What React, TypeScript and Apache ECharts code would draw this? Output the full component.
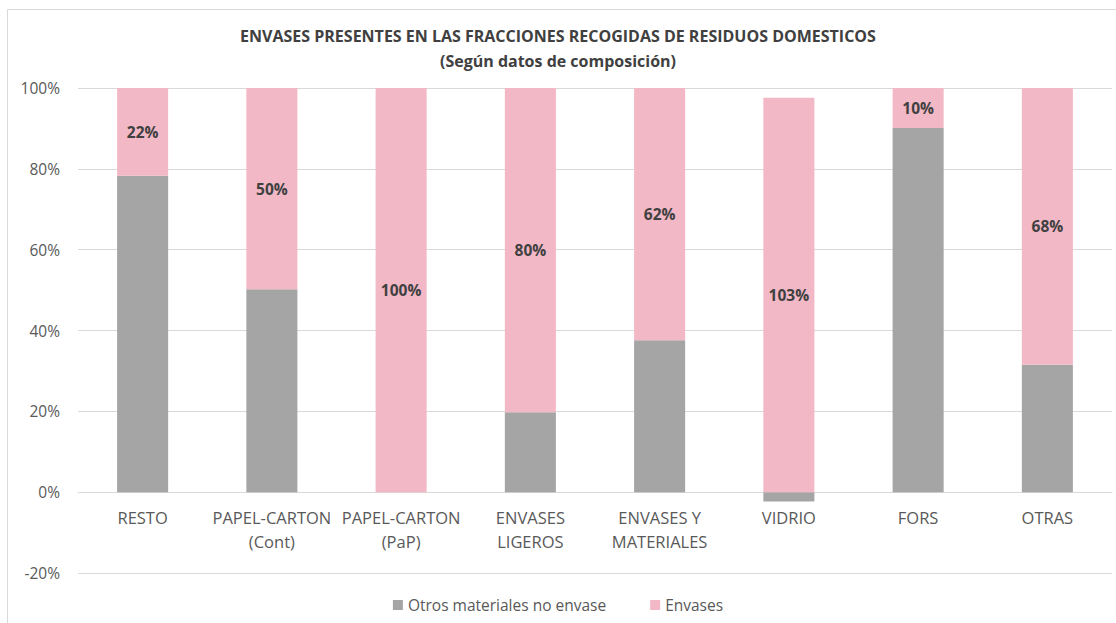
import React, { useEffect, useRef } from "react";
import * as echarts from "echarts";

const categories = [
  "RESTO",
  "PAPEL-CARTON\n(Cont)",
  "PAPEL-CARTON\n(PaP)",
  "ENVASES\nLIGEROS",
  "ENVASES Y\nMATERIALES",
  "VIDRIO",
  "FORS",
  "OTRAS",
];
const otrosMateriales = [78.3, 50.2, 0, 19.8, 37.6, -2.3, 90.1, 31.5];
const envases = [21.7, 49.8, 100, 80.2, 62.4, 97.6, 9.9, 68.5];
const envasesLabels = ["22%", "50%", "100%", "80%", "62%", "103%", "10%", "68%"];
const yTicks = { min: -20, max: 100, interval: 20 };

const FONT = "'Open Sans', 'Noto Sans', sans-serif";

export default function App() {
  const ref = useRef<HTMLDivElement>(null);
  useEffect(() => {
    if (!ref.current) return;
    const chart = echarts.init(ref.current, null, { renderer: "svg" });
    chart.setOption({
      animation: false,
      backgroundColor: "#ffffff",
      textStyle: { fontFamily: FONT },
      title: {
        text: "ENVASES PRESENTES EN LAS FRACCIONES RECOGIDAS DE RESIDUOS DOMESTICOS\n(Según datos de composición)",
        left: "center",
        top: 18,
        textStyle: {
          fontFamily: FONT,
          fontSize: 16,
          fontWeight: "bold",
          color: "#404040",
          lineHeight: 25,
        },
      },
      graphic: [
        {
          type: "rect",
          shape: { x: 7.5, y: 9.5, width: 1130, height: 640 },
          style: { fill: "none", stroke: "#d9d9d9", lineWidth: 1 },
          silent: true,
        },
      ],
      legend: {
        bottom: 5,
        left: "center",
        itemWidth: 10,
        itemHeight: 10,
        itemGap: 44,
        icon: "rect",
        textStyle: { fontFamily: FONT, fontSize: 15.5, color: "#595959" },
        data: ["Otros materiales no envase", "Envases"],
      },
      grid: {
        left: 78,
        right: 4,
        top: 88,
        bottom: 50,
        containLabel: false,
        outerBoundsMode: "none",
      },
      xAxis: {
        type: "category",
        data: categories,
        offset: -81,
        axisLine: { onZero: false, lineStyle: { color: "#d9d9d9" } },
        axisTick: { show: false },
        axisLabel: {
          fontFamily: FONT,
          fontSize: 16.5,
          color: "#595959",
          lineHeight: 24,
          margin: 13,
          interval: 0,
        },
      },
      yAxis: {
        type: "value",
        min: yTicks.min,
        max: yTicks.max,
        interval: yTicks.interval,
        axisLine: { show: false },
        axisTick: { show: false },
        splitLine: { lineStyle: { color: "#d9d9d9", width: 1 } },
        axisLabel: {
          formatter: "{value}%",
          fontFamily: FONT,
          fontSize: 15.5,
          color: "#595959",
          margin: 18,
        },
      },
      series: [
        {
          name: "Otros materiales no envase",
          type: "bar",
          stack: "total",
          barWidth: "39.5%",
          data: otrosMateriales,
          itemStyle: { color: "#a5a5a5" },
        },
        {
          name: "Envases",
          type: "bar",
          stack: "total",
          barWidth: "39.5%",
          data: envases,
          itemStyle: { color: "#f2b8c6" },
          label: {
            show: true,
            position: "inside",
            formatter: (p: any) => envasesLabels[p.dataIndex],
            fontFamily: FONT,
            fontSize: 15.5,
            fontWeight: "bold",
            color: "#404040",
          },
        },
      ],
    });
    return () => chart.dispose();
  }, []);
  return (
    <div
      ref={ref}
      style={{ position: "absolute", left: 0, top: 0, width: 1116, height: 623 }}
    />
  );
}
